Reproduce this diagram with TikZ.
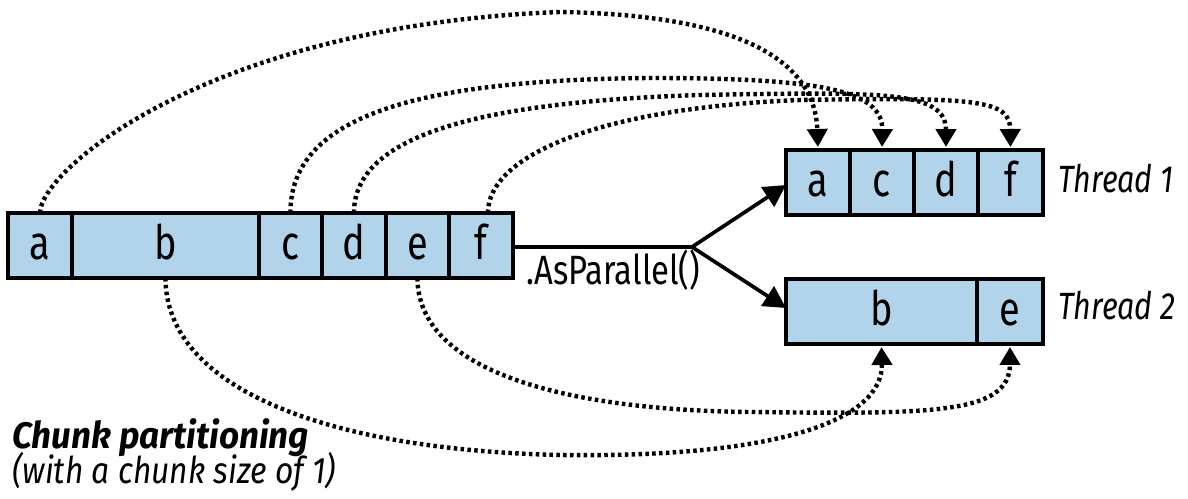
\documentclass[tikz,border=0pt]{standalone}
\usepackage{fontspec}
\setmainfont{Fira Sans}[FakeStretch=0.8]
\newfontfamily\titlefont{Fira Sans}[FakeStretch=0.95]
\newfontfamily\subfont{Fira Sans}[FakeStretch=0.86]
\usetikzlibrary{arrows.meta}
\definecolor{cellblue}{RGB}{178,212,234}
\begin{document}
\begin{tikzpicture}[x=0.02cm,y=-0.02cm,
  cell/.style={draw=black, line width=2.2pt, fill=cellblue, inner sep=0pt, outer sep=0pt,
    minimum height=1.3cm, text height=0.58cm, text depth=0pt,
    font=\fontsize{27}{30}\selectfont, anchor=west},
  lbl/.style={inner sep=0pt, anchor=base west, font=\fontsize{23.3}{28}\selectfont},
  threadlbl/.style={lbl, font=\fontsize{21.6}{26}\selectfont\itshape},
  flowline/.style={line width=2.1pt},
  flow/.style={flowline, -{Triangle[width=0.46cm,length=0.44cm]}},
  trail/.style={line width=2.5pt, dash pattern=on 2pt off 1.9pt,
    -{Triangle[width=0.4cm,length=0.36cm,sep=0.06cm]}}]
\useasboundingbox[fill=white] (0,0) rectangle (1188,499);
% source bar
\node[cell, minimum width=1.28cm] (ca) at (8,245.5) {a};
\node[cell, minimum width=3.74cm] (cb) at (ca.east) {b};
\node[cell, minimum width=1.26cm] (cc) at (cb.east) {c};
\node[cell, minimum width=1.28cm] (cd) at (cc.east) {d};
\node[cell, minimum width=1.26cm] (ce) at (cd.east) {e};
\node[cell, minimum width=1.28cm] (cf) at (ce.east) {f};
% thread 1
\node[cell, minimum width=1.28cm] (ta) at (786,182.5) {a};
\node[cell, minimum width=1.28cm] (tc) at (ta.east) {c};
\node[cell, minimum width=1.28cm] (td) at (tc.east) {d};
\node[cell, minimum width=1.30cm] (tf) at (td.east) {f};
% thread 2
\node[cell, minimum width=3.82cm] (tb) at (786,311.5) {b};
\node[cell, minimum width=1.32cm] (te) at (tb.east) {e};
% labels
\node[lbl] (par) at (526,285) {.AsParallel()};
\node[threadlbl] (th1) at (1058,193) {Thread 1};
\node[threadlbl] (th2) at (1058,320) {Thread 2};
\node[lbl, font=\titlefont\fontsize{21}{24}\selectfont\bfseries\itshape] (title) at (12,449) {Chunk partitioning};
\node[lbl, font=\subfont\fontsize{21}{24}\selectfont\itshape] (sub) at (12,484) {(with a chunk size of 1)};
% fork
\coordinate (fork) at (692,247);
\draw[flowline] (cf.east |- fork) -- (fork);
\draw[flow] (fork) -- (ta.west |- 0,185);
\draw[flow] (fork) -- (tb.west |- 0,308);
% dotted trails to thread 1
\draw[trail] (ca.north) .. controls (40,170) and (210,25) .. (560,12) .. controls (740,15) and (815,60) .. (ta.north);
\draw[trail] (cc.north) .. controls (290,115) and (420,80) .. (650,78) .. controls (820,78) and (883,90) .. (tc.north);
\draw[trail] (cd.north) .. controls (354,135) and (480,102) .. (700,95) .. controls (880,92) and (946,90) .. (td.north);
\draw[trail] ([xshift=0.14cm]cf.north) .. controls (488,155) and (600,108) .. (800,100) .. controls (980,97) and (1010,100) .. (tf.north);
% dotted trails to thread 2
\draw[trail] (cb.south) .. controls (166,390) and (330,450) .. (560,455) .. controls (780,458) and (883,420) .. (tb.south);
\draw[trail] (ce.south) .. controls (418,370) and (560,410) .. (750,412) .. controls (930,414) and (1010,415) .. (te.south);
\end{tikzpicture}
\end{document}
